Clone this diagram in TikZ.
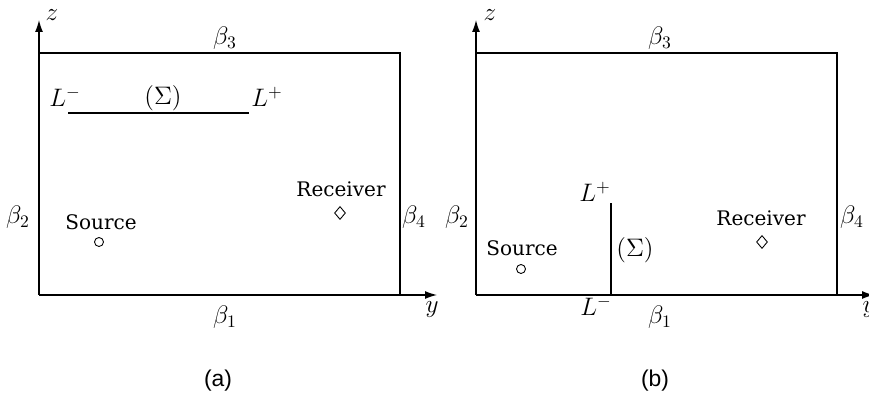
\documentclass[tikz,border=0pt]{standalone}
\usepackage{fontspec}
\setmainfont{DejaVu Serif}
\newfontfamily\capfont{Liberation Sans}
\usepackage{amsmath,amssymb}
\usetikzlibrary{shapes,arrows,arrows.meta,positioning,calc}

\tikzset{
  axis/.style={line width=0.7pt, -{Latex[length=2.4mm,width=1.6mm]}},
  wall/.style={line width=1.1pt},
  crack/.style={line width=1pt},
  lbl/.style={font=\fontsize{11.4}{13}\selectfont, inner sep=1pt},
  mlbl/.style={font=\fontsize{14.5}{16}\selectfont, inner sep=1pt},
  src/.style={draw, circle, line width=0.5pt, minimum size=0.18cm, inner sep=0pt},
  rcv/.style={draw, diamond, line width=0.5pt, minimum width=0.22cm, minimum height=0.26cm, inner sep=0pt},
  capt/.style={font=\capfont\fontsize{13}{15}\selectfont},
}

\begin{document}
\begin{tikzpicture}
    \useasboundingbox (-0.78,-1.96) rectangle (16.6,5.9);

    % (a) horizontal screen
    \begin{scope}
        \coordinate (Oa) at (0,0);
        \coordinate (Za) at (0,5.5);
        \coordinate (Ya) at (7.96,0);
        \coordinate (TLa) at (0,4.84);
        \coordinate (TRa) at (7.22,4.84);
        \coordinate (BRa) at (7.22,0);
        \draw[axis] (Oa) -- (Za);
        \draw[axis] (Oa) -- (Ya);
        \draw[wall] (TLa) -- (TRa) -- (BRa);

        % Screen
        \coordinate (Lma) at (0.58,3.64);
        \coordinate (Lpa) at (4.2,3.64);
        \draw[crack] (Lma) -- (Lpa);

        % Labels
        \node[mlbl] (za) at (0.26,5.6) {$z$};
        \node[mlbl] (ya) at (7.86,-0.3) {$y$};
        \node[mlbl] (b3a) at (3.72,5.14) {$\beta_3$};
        \node[mlbl] (b1a) at (3.72,-0.44) {$\beta_1$};
        \node[mlbl] (b2a) at (-0.42,1.56) {$\beta_2$};
        \node[mlbl] (b4a) at (7.5,1.56) {$\beta_4$};
        \node[mlbl] (lma) at (0.52,3.96) {$L^-$};
        \node[mlbl] (siga) at (2.48,3.94) {$(\Sigma)$};
        \node[mlbl] (lpa) at (4.56,3.96) {$L^+$};

        % Source and receiver
        \node[lbl] (srctxta) at (1.24,1.46) {Source};
        \node[src] (srca) at (1.2,1.06) {};
        \node[lbl] (rcvtxta) at (6.04,2.12) {Receiver};
        \node[rcv] (rcva) at (6.02,1.64) {};

        \node[capt] (capa) at (3.58,-1.72) {(a)};
    \end{scope}

    % (b) vertical screen
    \begin{scope}[xshift=8.74cm]
        \coordinate (Ob) at (0,0);
        \coordinate (Zb) at (0,5.5);
        \coordinate (Yb) at (7.96,0);
        \coordinate (TLb) at (0,4.84);
        \coordinate (TRb) at (7.22,4.84);
        \coordinate (BRb) at (7.22,0);
        \draw[axis] (Ob) -- (Zb);
        \draw[axis] (Ob) -- (Yb);
        \draw[wall] (TLb) -- (TRb) -- (BRb);

        % Screen
        \coordinate (Lmb) at (2.7,0);
        \coordinate (Lpb) at (2.7,1.84);
        \draw[crack] (Lmb) -- (Lpb);

        % Labels
        \node[mlbl] (zb) at (0.28,5.6) {$z$};
        \node[mlbl] (yb) at (7.86,-0.3) {$y$};
        \node[mlbl] (b3b) at (3.68,5.14) {$\beta_3$};
        \node[mlbl] (b1b) at (3.68,-0.44) {$\beta_1$};
        \node[mlbl] (b2b) at (-0.38,1.56) {$\beta_2$};
        \node[mlbl] (b4b) at (7.52,1.56) {$\beta_4$};
        \node[mlbl] (lmb) at (2.4,-0.22) {$L^-$};
        \node[mlbl] (sigb) at (3.18,0.9) {$(\Sigma)$};
        \node[mlbl] (lpb) at (2.38,2.06) {$L^+$};

        % Source and receiver
        \node[lbl] (srctxtb) at (0.92,0.94) {Source};
        \node[src] (srcb) at (0.9,0.52) {};
        \node[lbl] (rcvtxtb) at (5.7,1.54) {Receiver};
        \node[rcv] (rcvb) at (5.72,1.06) {};

        \node[capt] (capb) at (3.58,-1.72) {(b)};
    \end{scope}
\end{tikzpicture}
\end{document}
